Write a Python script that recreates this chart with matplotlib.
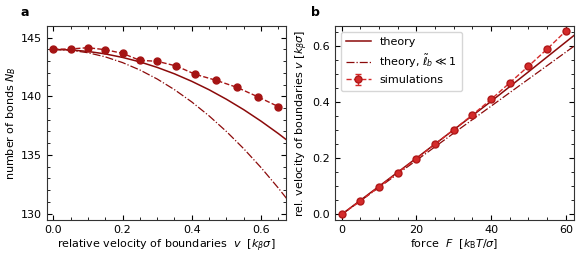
import matplotlib
matplotlib.use("Agg")
import matplotlib.pyplot as plt
from matplotlib.ticker import MultipleLocator

# ---- data ----
# panel a: number of bonds vs relative velocity
sim_v = [0.0, 0.05, 0.10, 0.15, 0.20, 0.25, 0.30, 0.355, 0.41, 0.47, 0.53, 0.59, 0.65]
sim_NB = [144.01, 144.04, 144.15, 143.98, 143.67, 143.07, 142.99, 142.59, 141.88, 141.37, 140.77, 139.97, 139.12]
sim_NB_err = [0.1] * 13

theory_v = [0.0, 0.05, 0.10, 0.15, 0.20, 0.25, 0.30, 0.35, 0.40, 0.45, 0.50, 0.55, 0.60, 0.65, 0.68]
theory_NB = [144.0, 143.96, 143.83, 143.62, 143.32, 142.94, 142.47, 141.92, 141.28, 140.56, 139.75, 138.86, 137.88, 136.82, 136.14]
theory_small_NB = [144.0, 143.93, 143.72, 143.37, 142.88, 142.25, 141.48, 140.57, 139.52, 138.33, 137.0, 135.53, 133.92, 132.17, 131.05]

# panel b: velocity vs force
sim_F = [0, 5, 10, 15, 20, 25, 30, 35, 40, 45, 50, 55, 60]
sim_vel = [0.0, 0.048, 0.098, 0.148, 0.198, 0.250, 0.301, 0.354, 0.409, 0.468, 0.527, 0.588, 0.652]
sim_vel_err = [0.006] * 13

theory_F = [0, 10, 20, 30, 40, 50, 60, 63]
theory_vel = [0.0, 0.100, 0.200, 0.301, 0.402, 0.507, 0.613, 0.645]
theory_small_vel = [0.0, 0.096, 0.192, 0.289, 0.385, 0.481, 0.577, 0.606]

dark = "#8b0a0a"
sim_dark = "#a51414"
sim_red = "#d42a2a"

plt.rcParams["font.size"] = 8
plt.rcParams["mathtext.fontset"] = "dejavusans"

fig = plt.figure(figsize=(5.81, 2.59), dpi=100)
axa = fig.add_axes([47 / 581, 1 - 220 / 259, 239 / 581, 194 / 259])
axb = fig.add_axes([335 / 581, 1 - 220 / 259, 239 / 581, 194 / 259])

# panel a
axa.plot(theory_v, theory_NB, "-", color=dark, lw=1.1)
axa.plot(theory_v, theory_small_NB, "-.", color=dark, lw=0.9)
axa.errorbar(sim_v, sim_NB, yerr=sim_NB_err, fmt="o--", color=sim_dark, mfc=sim_dark,
             mec=sim_dark, ms=5, lw=1.0, capsize=2)
axa.set_xlim(-0.018, 0.672)
axa.set_ylim(129.45, 146.0)
axa.xaxis.set_major_locator(MultipleLocator(0.2))
axa.xaxis.set_minor_locator(MultipleLocator(0.05))
axa.yaxis.set_major_locator(MultipleLocator(5))
axa.yaxis.set_minor_locator(MultipleLocator(1))
axa.set_xlabel(r"relative velocity of boundaries  $v$  $[k_\beta\sigma]$", labelpad=2)
axa.set_ylabel(r"number of bonds $N_B$", labelpad=2)

# panel b
axb.plot(theory_F, theory_vel, "-", color=dark, lw=1.1, label="theory")
axb.plot(theory_F, theory_small_vel, "-.", color=dark, lw=0.9,
         label=r"theory, $\tilde{\ell}_b \ll 1$")
axb.errorbar(sim_F, sim_vel, yerr=sim_vel_err, fmt="o--", color=sim_red, mfc=sim_red,
             mec="#b01818", ms=5, lw=1.0, capsize=2, label="simulations")
axb.set_xlim(-1.8, 62.2)
axb.set_ylim(-0.02, 0.67)
axb.xaxis.set_major_locator(MultipleLocator(20))
axb.xaxis.set_minor_locator(MultipleLocator(5))
axb.yaxis.set_major_locator(MultipleLocator(0.2))
axb.yaxis.set_minor_locator(MultipleLocator(0.05))
axb.set_xlabel(r"force  $F$  $[k_\mathrm{B}T/\sigma]$", labelpad=2)
axb.set_ylabel(r"rel. velocity of boundaries $v$ $[k_\beta\sigma]$", labelpad=2)
axb.legend(loc="upper left", fontsize=8, frameon=True, fancybox=True,
           handlelength=2.2, borderpad=0.5)

for ax in (axa, axb):
    ax.tick_params(which="both", direction="in", top=True, right=True)
    ax.tick_params(which="major", length=3.5, width=0.8)
    ax.tick_params(which="minor", length=2, width=0.6)
    for s in ax.spines.values():
        s.set_color("#333333")

fig.text(25 / 581, 1 - 13 / 259, "a", fontweight="bold", fontsize=9, va="center", ha="center")
fig.text(315 / 581, 1 - 13 / 259, "b", fontweight="bold", fontsize=9, va="center", ha="center")

fig.savefig("out.png", dpi=100)
